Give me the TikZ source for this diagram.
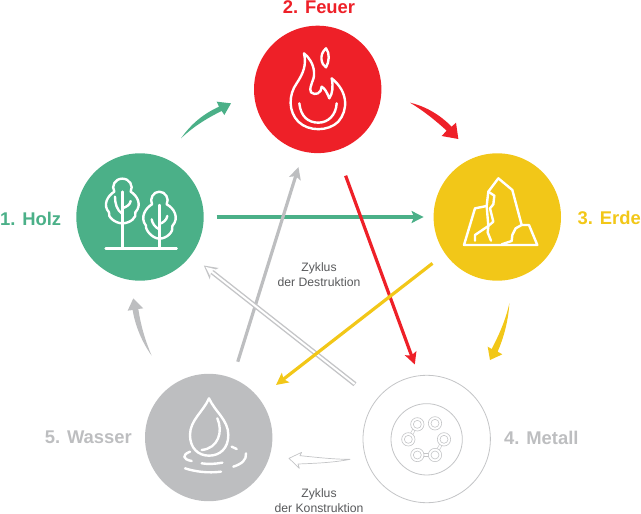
\documentclass[tikz,border=0pt]{standalone}
\usepackage{fontspec}
\setmainfont{Liberation Sans}
\usetikzlibrary{arrows.meta}
\definecolor{cgreen}{HTML}{4BB088}
\definecolor{cred}{HTML}{EE2028}
\definecolor{cyellow}{HTML}{F2C718}
\definecolor{cgray}{HTML}{BDBEC0}
\definecolor{cline}{HTML}{C4C5C7}
\definecolor{ctext}{HTML}{58595B}
\tikzset{
  element/.style={circle,minimum size=127.4pt,inner sep=0pt,outer sep=0pt},
  elabel/.style={font=\bfseries\fontsize{18.4}{20}\selectfont,inner sep=0pt},
  cyclelabel/.style={font=\fontsize{12.2}{15}\selectfont,align=center,text=ctext,inner sep=0pt},
  icon/.style={draw=white,line width=2.4pt,line cap=round,line join=round},
  straight/.style={line width=3.2pt,-{Stealth[length=12pt,width=12pt,inset=2.5pt]}},
  zoomed/.style={x=0.33333pt,y=-0.33333pt},
  thin gray/.style={draw=cline,line width=0.8pt}
}
\begin{document}
\begin{tikzpicture}[x=1pt,y=-1pt]
\useasboundingbox (0,0) rectangle (641,514);
% circles
\node[element,fill=cgreen] (holz) at (140,217) {};
\node[element,fill=cred] (feuer) at (317.7,89.4) {};
\node[element,fill=cyellow] (erde) at (497.3,217) {};
\node[element,thin gray,fill=white] (metall) at (426.7,439) {};
\node[element,fill=cgray] (wasser) at (208.7,437.5) {};
% labels
\node[elabel,text=cred] (l2) at (319,7) {2. Feuer};
\node[elabel,text=cgreen,anchor=west] (l1) at (0,219) {1. Holz};
\node[elabel,text=cyellow,anchor=east] (l3) at (641,218) {3. Erde};
\node[elabel,text=cgray,anchor=west] (l4) at (504,438) {4. Metall};
\node[elabel,text=cgray,anchor=east] (l5) at (132,437) {5. Wasser};
\node[cyclelabel] (zd) at (319,275) {Zyklus\\der Destruktion};
\node[cyclelabel] (zk) at (319,501) {Zyklus\\der Konstruktion};
% straight arrows
\draw[straight,cgreen,shorten <=13pt,shorten >=10pt] (holz.east) -- (erde.west);
\draw[straight,cgray,shorten <=17.5pt,shorten >=16.4pt] (wasser.68.4) -- (feuer.-103.4);
\draw[line width=4.8pt,cline,shorten <=26.5pt,shorten >=16.5pt,-{Stealth[length=13pt,width=14pt,inset=3.5pt]}] (metall.143) -- (holz.-37.7);
\draw[line width=2pt,white,shorten <=27pt,shorten >=18.6pt,-{Stealth[length=9.5pt,width=8.5pt,inset=2.5pt]}] (metall.143) -- (holz.-37.7);
\draw[straight,cred,shorten <=27pt,shorten >=12pt] (feuer.-73.6) -- (metall.97.7);
\draw[straight,cyellow,shorten <=16pt,shorten >=21.7pt] (erde.215.8) -- (wasser.38.1);
% curved tapered arrows
\begin{scope}[shift={(170,90)},zoomed]
\fill[cgreen] (33,145) .. controls (65,100) and (100,72) .. (147,50) -- (140,35) -- (183,40) -- (163,75) -- (155,63) .. controls (110,85) and (70,110) .. cycle;
\end{scope}
\begin{scope}[shift={(400,90)},zoomed]
\fill[cred] (30,38) .. controls (80,50) and (120,75) .. (155,110) -- (168,98) -- (175,147) -- (125,138) -- (140,122) .. controls (105,90) and (70,62) .. cycle;
\end{scope}
\begin{scope}[shift={(475,295)},zoomed]
\fill[cyellow] (103,25) .. controls (100,80) and (85,130) .. (68,170) -- (82,178) -- (45,195) -- (38,155) -- (50,162) .. controls (72,120) and (92,75) .. cycle;
\end{scope}
\begin{scope}[shift={(120,295)},zoomed]
\fill[cgray] (95,182) .. controls (75,135) and (62,90) .. (55,42) -- (70,40) -- (40,10) -- (23,47) -- (38,45) .. controls (45,90) and (65,140) .. cycle;
\end{scope}
\begin{scope}[shift={(270,440)},zoomed]
\draw[cline,line width=0.7pt,line join=round,fill=white] (240,58) .. controls (190,58) and (140,52) .. (90,47) -- (95,37) -- (57,55) -- (88,85) -- (84,72) .. controls (135,70) and (190,68) .. cycle;
\end{scope}
% tree icon
\begin{scope}[shift={(60,140)},zoomed]
\draw[icon] (137,325) -- (350,325);
\draw[icon] (187,155) -- (187,325);
\draw[icon] (298,195) -- (298,325);
\draw[icon] (187,116) .. controls (165,116) and (153,138) .. (163,155) .. controls (143,167) and (127,195) .. (147,217) .. controls (142,230) and (165,250) .. (187,250) .. controls (210,250) and (232,232) .. (226,217) .. controls (247,195) and (232,167) .. (212,155) .. controls (221,138) and (209,116) .. (187,116) -- cycle;
\draw[icon] (298,155) .. controls (280,155) and (268,176) .. (276,193) .. controls (258,203) and (238,232) .. (258,257) .. controls (255,270) and (278,296) .. (298,296) .. controls (320,296) and (342,275) .. (337,258) .. controls (360,232) and (340,203) .. (320,193) .. controls (329,176) and (316,155) .. (298,155) -- cycle;
\draw[icon] (187,222) .. controls (170,210) and (165,190) .. (165,170);
\draw[icon] (187,205) .. controls (200,200) and (210,195) .. (212,183);
\draw[icon] (298,268) .. controls (285,262) and (277,250) .. (275,238);
\draw[icon] (298,252) .. controls (310,248) and (320,240) .. (322,228);
\end{scope}
% fire icon
\begin{scope}[shift={(240,10)},zoomed]
\draw[icon] (192,130) .. controls (200,165) and (190,190) .. (170,220) .. controls (145,255) and (145,305) .. (175,335) .. controls (205,365) and (265,365) .. (295,335) .. controls (325,300) and (325,245) .. (275,205) .. controls (280,230) and (278,250) .. (268,265) .. controls (262,250) and (255,235) .. (245,230) .. controls (245,250) and (225,258) .. (213,247) .. controls (205,225) and (225,215) .. (222,185) .. controls (220,160) and (205,140) .. (192,130) -- cycle;
\draw[icon] (258,115) .. controls (270,130) and (268,155) .. (258,172) .. controls (245,165) and (235,135) .. (258,115) -- cycle;
\draw[icon] (178,280) .. controls (182,320) and (205,338) .. (235,338) .. controls (265,338) and (288,315) .. (290,280);
\end{scope}
% rock icon
\begin{scope}[shift={(425,145)},zoomed]
\draw[icon] (117,300) -- (150,190) -- (185,183) -- (190,140) -- (220,100) -- (262,135) -- (290,240) -- (312,240) -- (337,300) -- cycle;
\draw[icon] (230,298) -- (260,288) -- (262,270) -- (272,250) -- (290,240);
\draw[icon] (190,140) -- (208,152) -- (205,178) -- (195,190) -- (205,230) -- (190,243) -- (188,262) -- (198,287);
\draw[icon] (190,243) -- (150,270) -- (150,287);
\draw[icon] (185,183) -- (190,243);
\end{scope}
% metal icon
\begin{scope}[shift={(355,370)},zoomed]
\draw[thin gray] (215,208) circle[radius=107];
\foreach \ax/\ay/\bx/\by in {160/208/187/163,187/255/240/255,240/255/267/208}{
  \draw[cline,line width=3.2pt] (\ax,\ay) -- (\bx,\by);
  \draw[white,line width=2pt] (\ax,\ay) -- (\bx,\by);
}
\foreach \cx/\cy in {187/163,240/160,267/208,240/255,187/255,160/208}{
  \draw[cline,line width=0.6pt,fill=white] (\cx,\cy) circle[radius=20];
  \draw[cline,line width=0.6pt] (\cx,\cy) circle[radius=12];
}
\end{scope}
% water icon
\begin{scope}[shift={(140,370)},zoomed]
\draw[icon] (207,85) .. controls (190,125) and (150,150) .. (150,195) .. controls (150,235) and (175,257) .. (207,257) .. controls (240,257) and (265,235) .. (265,195) .. controls (265,150) and (225,125) .. (207,85) -- cycle;
\draw[icon] (232,145) .. controls (250,185) and (235,235) .. (185,240);
\draw[icon] (150,245) .. controls (125,255) and (128,268) .. (155,273);
\draw[icon] (185,280) .. controls (205,283) and (225,282) .. (247,278);
\draw[icon] (275,230) -- (290,237);
\draw[icon] (318,250) .. controls (320,270) and (305,282) .. (280,290);
\draw[icon] (135,295) .. controls (165,305) and (205,310) .. (243,305);
\end{scope}
\end{tikzpicture}
\end{document}
